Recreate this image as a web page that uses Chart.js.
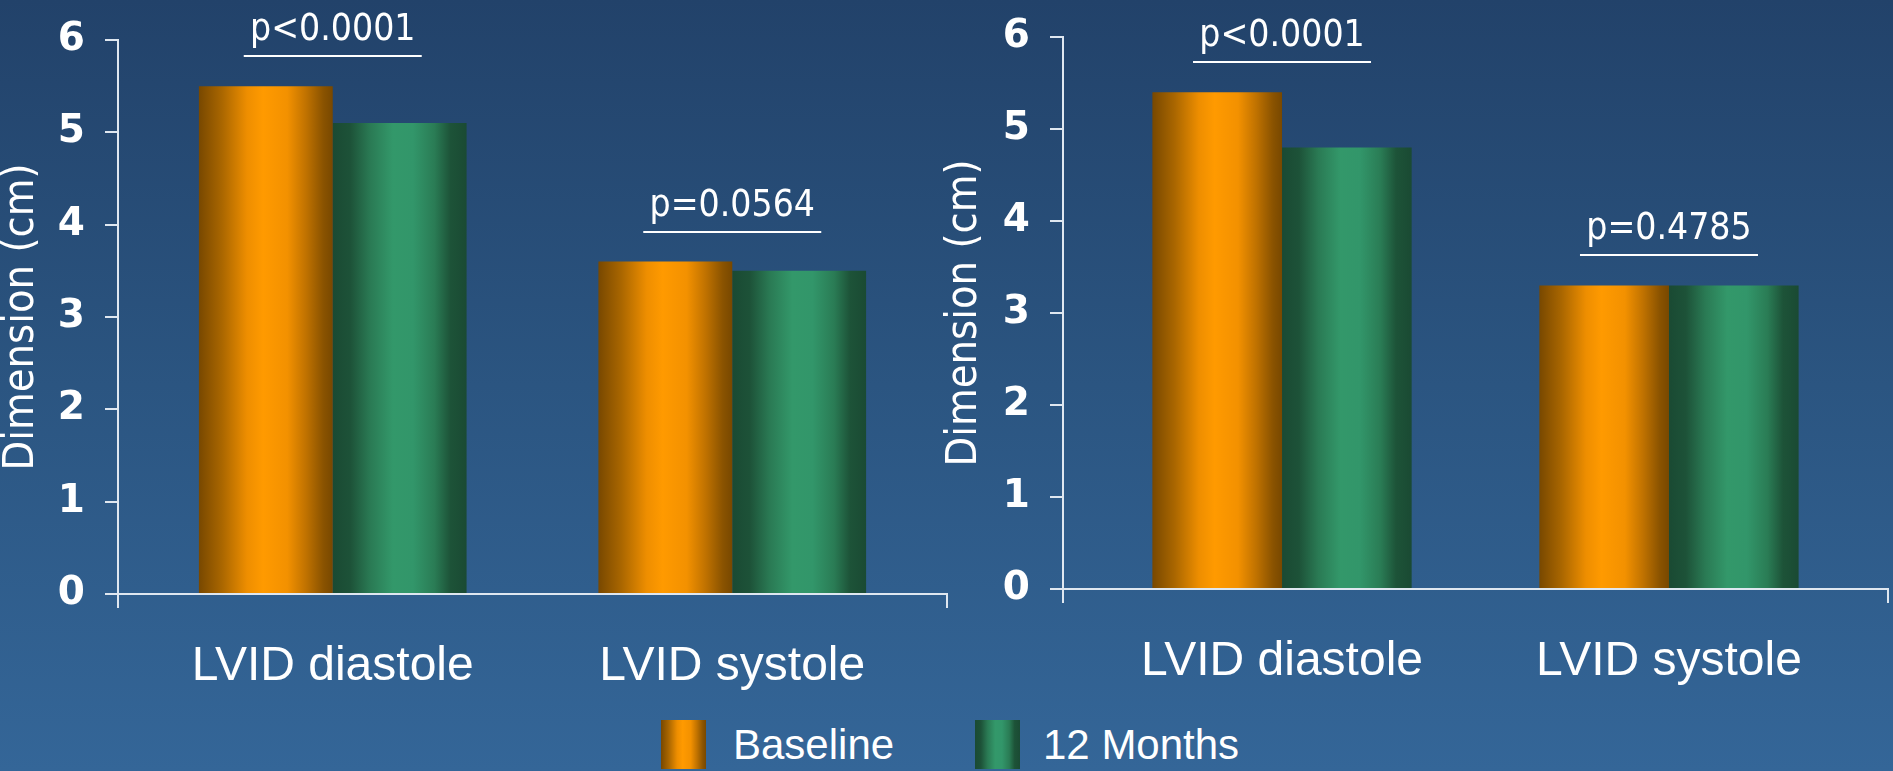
<!DOCTYPE html>
<html>
<head>
<meta charset="utf-8">
<script src="https://cdn.jsdelivr.net/npm/chart.js@4.4.0/dist/chart.umd.min.js"></script>
<style>
  html, body { margin: 0; padding: 0; }
  body {
    width: 1893px;
    height: 771px;
    overflow: hidden;
    position: relative;
    background: linear-gradient(to bottom, #22426a 0%, #2b5581 50%, #346698 100%);
    font-family: "Liberation Sans", Arial, sans-serif;
  }
  canvas { position: absolute; top: 0; }
  #leftChart { left: 0; }
  #rightChart { left: 943px; }
  .swatch { position: absolute; top: 720px; width: 45px; height: 49px; }
  .key { position: absolute; top: 720px; height: 49px; line-height: 49px; color: #fff; font-size: 42px; white-space: nowrap; }
</style>
</head>
<body>
<canvas id="leftChart" width="955" height="710"></canvas>
<canvas id="rightChart" width="950" height="710"></canvas>
<div class="swatch" id="sw0" style="left:661px"></div>
<div class="key" id="key0" style="left:733px"></div>
<div class="swatch" id="sw1" style="left:975px"></div>
<div class="key" id="key1" style="left:1043px"></div>
<script>
const categories = ['LVID diastole', 'LVID systole'];
const seriesNames = ['Baseline', '12 Months'];
const yTicks = [0, 1, 2, 3, 4, 5, 6];

// left panel
const leftBaseline = [5.5, 3.6];
const leftMonths = [5.1, 3.5];
const leftPValues = ['p<0.0001', 'p=0.0564'];

// right panel
const rightBaseline = [5.4, 3.3];
const rightMonths = [4.8, 3.3];
const rightPValues = ['p<0.0001', 'p=0.4785'];

const AXIS = '#dfe7f0';
const GROUP = 0.67;

// cylinder shading across each bar
const orangeStops = [[0, '#784800'], [0.17, '#a96600'], [0.36, '#ee8e00'], [0.48, '#ff9a00'], [0.66, '#f39100'], [0.8, '#c07200'], [0.93, '#8a5300'], [1, '#784800']];
const greenStops = [[0, '#1a4a33'], [0.13, '#1d5238'], [0.28, '#2a7a54'], [0.45, '#33986a'], [0.6, '#32966a'], [0.76, '#2a7c55'], [0.88, '#1d5338'], [1, '#1a4a33']];

function cssGradient(stops) {
  return 'linear-gradient(to right, ' + stops.map(([o, c]) => c + ' ' + (o * 100) + '%').join(', ') + ')';
}

function barFill(stops) {
  return (c) => {
    const x = c.chart.scales.x;
    if (c.type !== 'data' || !x) return stops[4][1];
    const unit = x.getPixelForValue(1) - x.getPixelForValue(0);
    if (!isFinite(unit) || unit <= 0) return stops[4][1];
    const half = unit * GROUP / 2;
    const left = x.getPixelForValue(c.dataIndex) - half + half * c.datasetIndex;
    const g = c.chart.ctx.createLinearGradient(left, 0, left + half, 0);
    stops.forEach(([o, col]) => g.addColorStop(o, col));
    return g;
  };
}

// short ticks below the x axis at both ends
const axisEnds = {
  id: 'axisEnds',
  afterDraw(chart) {
    const { ctx, chartArea: { left, right, bottom } } = chart;
    ctx.save();
    ctx.strokeStyle = AXIS;
    ctx.lineWidth = 2;
    ctx.beginPath();
    [left, right].forEach((x) => {
      ctx.moveTo(x, bottom);
      ctx.lineTo(x, bottom + 14);
    });
    ctx.stroke();
    ctx.restore();
  }
};

// p-value bar and text above each group
const pBrackets = {
  id: 'pBrackets',
  afterDatasetsDraw(chart, args, opts) {
    const { ctx } = chart;
    const x = chart.scales.x;
    ctx.save();
    ctx.strokeStyle = '#ffffff';
    ctx.fillStyle = '#ffffff';
    ctx.lineWidth = 2;
    ctx.font = '37px "DejaVu Sans Condensed", "DejaVu Sans", sans-serif';
    ctx.textAlign = 'center';
    ctx.textBaseline = 'alphabetic';
    (opts.labels || []).forEach((label, i) => {
      const cx = x.getPixelForValue(i);
      const top = Math.min(...chart.data.datasets.map((_, d) => chart.getDatasetMeta(d).data[i].y));
      const ly = Math.round(top - 30);
      ctx.beginPath();
      ctx.moveTo(cx - 89, ly);
      ctx.lineTo(cx + 89, ly);
      ctx.stroke();
      ctx.fillText(label, cx, ly - 16);
    });
    ctx.restore();
  }
};

function makeChart(id, baseline, months, pLabels, box) {
  const series = [baseline, months];
  const fills = [orangeStops, greenStops];
  return new Chart(document.getElementById(id), {
    type: 'bar',
    data: {
      datasets: series.map((vals, d) => ({
        label: seriesNames[d],
        data: vals.map((v, i) => ({ x: i, y: v })),
        backgroundColor: barFill(fills[d]),
        borderWidth: 0,
        categoryPercentage: GROUP,
        barPercentage: 1,
      })),
    },
    options: {
      responsive: false,
      animation: false,
      events: [],
      layout: { padding: { top: box.top, right: box.right, left: 0, bottom: 0 } },
      scales: {
        x: {
          type: 'linear',
          offset: false,
          min: -box.pad,
          max: 1 + box.pad,
          afterBuildTicks: (s) => { s.ticks = categories.map((_, i) => ({ value: i })); },
          afterFit: (s) => { s.height = box.xHeight; },
          ticks: {
            callback: (v) => categories[v],
            color: '#ffffff',
            font: { family: '"Liberation Sans", Arial, sans-serif', size: 48 },
            padding: 36,
            maxRotation: 0,
            autoSkip: false,
          },
          grid: { display: false },
          border: { display: true, color: AXIS, width: 2 },
        },
        y: {
          min: 0,
          max: 6,
          afterBuildTicks: (s) => { s.ticks = yTicks.map((v) => ({ value: v })); },
          afterFit: (s) => {
            s.width = box.yWidth;
            s.paddingTop = 0;
            s.paddingBottom = 0;
          },
          ticks: {
            color: '#ffffff',
            font: { family: '"DejaVu Sans", sans-serif', size: 39, weight: 'bold' },
            padding: 20,
          },
          grid: { display: true, drawOnChartArea: false, drawTicks: true, tickLength: 13, color: AXIS, lineWidth: 2 },
          border: { display: true, color: AXIS, width: 2 },
          title: {
            display: true,
            text: 'Dimension (cm)',
            color: '#ffffff',
            font: { family: '"DejaVu Sans Condensed", "DejaVu Sans", sans-serif', size: 43, lineHeight: 1 },
            padding: 0,
          },
        },
      },
      plugins: {
        legend: { display: false },
        tooltip: { enabled: false },
        pBrackets: { labels: pLabels },
      },
    },
    plugins: [pBrackets, axisEnds],
  });
}

makeChart('leftChart', leftBaseline, leftMonths, leftPValues,
  { pad: 0.5375, yWidth: 118, xHeight: 116, top: 40, right: 8 });
makeChart('rightChart', rightBaseline, rightMonths, rightPValues,
  { pad: 0.566, yWidth: 120, xHeight: 121, top: 37, right: 5 });

// shared legend
[orangeStops, greenStops].forEach((stops, d) => {
  document.getElementById('sw' + d).style.background = cssGradient(stops);
  document.getElementById('key' + d).textContent = seriesNames[d];
});
</script>
</body>
</html>
